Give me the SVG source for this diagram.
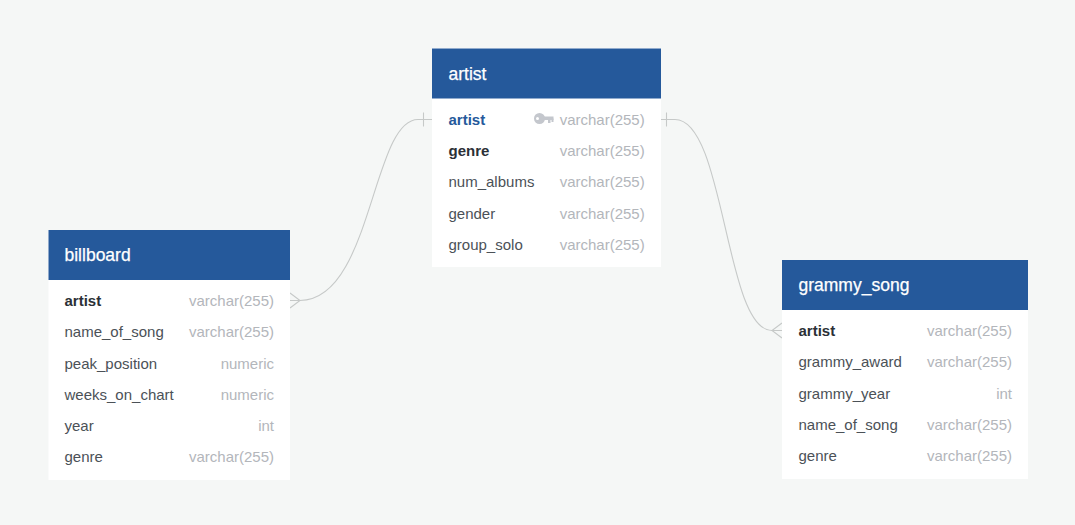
<svg xmlns="http://www.w3.org/2000/svg" width="1075" height="525" viewBox="0 0 1075 525">
<style>
text{font-family:"Liberation Sans",Arial,sans-serif;font-size:15px}
.body{fill:#fff}
.head{fill:#25599b}
.title{fill:#fff;font-size:17.500px;stroke:#fff;stroke-width:.25}
.f{fill:#4b5157}
.b{fill:#2b3036;font-weight:700}
.pk{fill:#25599b;font-weight:700}
.t{fill:#b3b6bb;text-anchor:end}
.c{fill:none;stroke:#c6c9c8;stroke-width:1.100}
</style>
<rect width="1075" height="525" fill="#f5f7f6"/>
<g id="connectors">
<path class="c" d="M432 119.500H418C372 119.500 372 300.500 300 300.500H290"/>
<path class="c" d="M423.500 112.500V126.500"/>
<path class="c" d="M290 293L300 300.500L290 308"/>
<path class="c" d="M661 119.500H675C725 119.500 725 330.500 772 330.500H782"/>
<path class="c" d="M666.500 112.500V126.500"/>
<path class="c" d="M782 323L772 330.500L782 338"/>
</g>
<g id="artist">
<rect class="body" x="432" y="48" width="229" height="219"/>
<rect class="head" x="432" y="48.500" width="229" height="50"/>
<text class="title" x="448.500" y="79.500">artist</text>
<text class="pk" x="448.500" y="125">artist</text>
<g fill="#c4c7cd"><circle cx="539.500" cy="118.500" r="5.500"/><rect x="542" y="116.500" width="11.500" height="3.500"/><rect x="548" y="118.500" width="2.500" height="4.500"/><rect x="551.500" y="118.500" width="2" height="3.500"/></g>
<circle cx="537.500" cy="118.500" r="1.500" fill="#fff"/>
<text class="t" x="644.700" y="125">varchar(255)</text>
<text class="b" x="448.500" y="156">genre</text><text class="t" x="644.700" y="156">varchar(255)</text>
<text class="f" x="448.500" y="187">num_albums</text><text class="t" x="644.700" y="187">varchar(255)</text>
<text class="f" x="448.500" y="219">gender</text><text class="t" x="644.700" y="219">varchar(255)</text>
<text class="f" x="448.500" y="250">group_solo</text><text class="t" x="644.700" y="250">varchar(255)</text>
</g>
<g id="billboard">
<rect class="body" x="48.500" y="230" width="241.500" height="250"/>
<rect class="head" x="48.500" y="230" width="241.500" height="50"/>
<text class="title" x="64.500" y="261">billboard</text>
<text class="b" x="64.500" y="306">artist</text><text class="t" x="274" y="306">varchar(255)</text>
<text class="f" x="64.500" y="337">name_of_song</text><text class="t" x="274" y="337">varchar(255)</text>
<text class="f" x="64.500" y="369">peak_position</text><text class="t" x="274" y="369">numeric</text>
<text class="f" x="64.500" y="400">weeks_on_chart</text><text class="t" x="274" y="400">numeric</text>
<text class="f" x="64.500" y="431">year</text><text class="t" x="274" y="431">int</text>
<text class="f" x="64.500" y="462">genre</text><text class="t" x="274" y="462">varchar(255)</text>
</g>
<g id="grammy_song">
<rect class="body" x="782" y="260" width="246" height="219"/>
<rect class="head" x="782" y="260" width="246" height="50"/>
<text class="title" x="798.500" y="291">grammy_song</text>
<text class="b" x="798.500" y="336">artist</text><text class="t" x="1012" y="336">varchar(255)</text>
<text class="f" x="798.500" y="367">grammy_award</text><text class="t" x="1012" y="367">varchar(255)</text>
<text class="f" x="798.500" y="399">grammy_year</text><text class="t" x="1012" y="399">int</text>
<text class="f" x="798.500" y="430">name_of_song</text><text class="t" x="1012" y="430">varchar(255)</text>
<text class="f" x="798.500" y="461">genre</text><text class="t" x="1012" y="461">varchar(255)</text>
</g>
</svg>
